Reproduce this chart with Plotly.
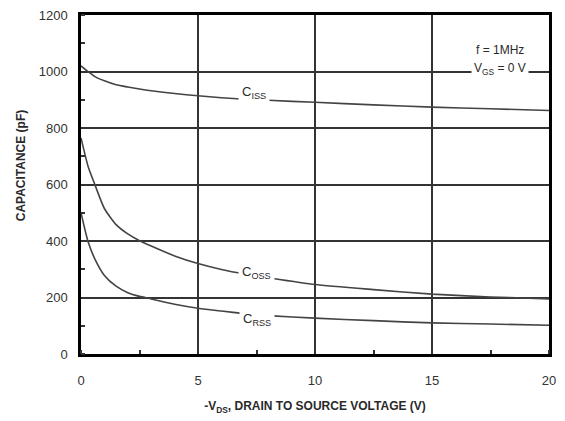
import plotly.graph_objects as go

# Data
vds = [0, 0.3, 0.6, 1.0, 1.5, 2.0, 2.5, 3.0, 4.0, 5.0, 6.0, 7.0, 8.0, 10.0, 12.5, 15.0, 17.5, 20.0]
ciss = [1020, 1000, 982, 967, 953, 945, 938, 932, 922, 914, 907, 902, 898, 891, 882, 874, 868, 862]
coss = [765, 665, 598, 515, 458, 425, 401, 382, 347, 320, 299, 283, 270, 246, 228, 212, 202, 195]
crss = [500, 398, 335, 278, 240, 217, 204, 195, 176, 162, 152, 143, 136, 127, 118, 110, 106, 102]

x_ticks = [0, 5, 10, 15, 20]
y_ticks = [0, 200, 400, 600, 800, 1000, 1200]

curve_labels = [("C<sub>ISS</sub>", 7.4, 925), ("C<sub>OSS</sub>", 7.5, 287), ("C<sub>RSS</sub>", 7.5, 121)]

FONT = "Liberation Sans, Arial, sans-serif"
TXT = "#2a2a2a"
LINE = "#444444"
GRID = "#333333"

fig = go.Figure()
for name, ys in [("Ciss", ciss), ("Coss", coss), ("Crss", crss)]:
    fig.add_trace(go.Scatter(x=vds, y=ys, mode="lines", name=name,
                             line=dict(color=LINE, width=1.6, shape="spline", smoothing=0.6),
                             showlegend=False, hoverinfo="skip"))

for text, xv, yv in curve_labels:
    fig.add_annotation(x=xv, y=yv, text=text, showarrow=False, bgcolor="white",
                       font=dict(family=FONT, size=13, color=TXT), borderpad=3)

fig.add_annotation(x=17.9, y=1000, yshift=22, text="f = 1MHz", showarrow=False,
                   font=dict(family=FONT, size=12, color=TXT))
fig.add_annotation(x=17.9, y=1000, yshift=3, text="V<sub>GS</sub> = 0 V", showarrow=False,
                   bgcolor="white", borderpad=2, font=dict(family=FONT, size=12, color=TXT))

fig.add_annotation(xref="paper", yref="paper", x=-0.128, y=0.557, xanchor="center", yanchor="middle",
                   textangle=-90, text="<b>CAPACITANCE (pF)</b>", showarrow=False,
                   font=dict(family=FONT, size=12, color=TXT))

fig.update_layout(
    width=565, height=421,
    margin=dict(l=81, r=16, t=15, b=67),
    paper_bgcolor="white", plot_bgcolor="white",
    font=dict(family=FONT, color=TXT),
)
fig.update_xaxes(
    range=[0, 20], tickvals=x_ticks, ticks="", showgrid=True, gridcolor=GRID, gridwidth=2,
    zeroline=False, showline=True, linecolor="black", linewidth=2.5, mirror=True, automargin=False,
    tickfont=dict(family=FONT, size=13, color="#333"), ticklabelstandoff=13,
    minor=dict(dtick=2.5, tick0=0, ticks="inside", ticklen=4, tickwidth=1.5, tickcolor="#333", showgrid=False),
    title=dict(text="<b>-V<sub>DS</sub>, DRAIN TO SOURCE VOLTAGE (V)</b>",
               font=dict(family=FONT, size=12, color=TXT), standoff=15),
)
fig.update_yaxes(
    range=[0, 1200], tickvals=y_ticks, ticks="", showgrid=True, gridcolor=GRID, gridwidth=2,
    zeroline=False, showline=True, linecolor="black", linewidth=2.5, mirror=True, automargin=False,
    tickfont=dict(family=FONT, size=13, color="#333"), ticklabelstandoff=8,
    minor=dict(dtick=100, tick0=0, ticks="inside", ticklen=4, tickwidth=1.5, tickcolor="#333", showgrid=False),
)

fig.write_html("out.html")
